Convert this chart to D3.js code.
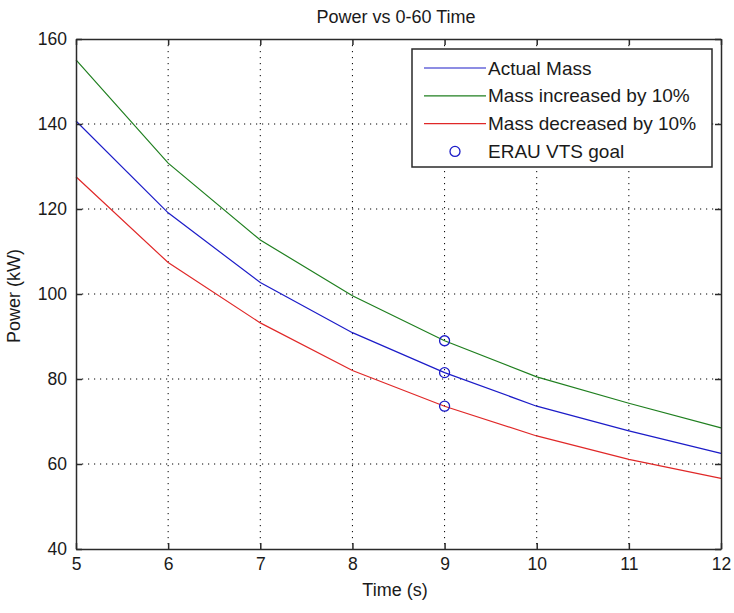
<!DOCTYPE html>
<html>
<head>
<meta charset="utf-8">
<script src="https://cdn.jsdelivr.net/npm/d3@7"></script>
<style>
  body { margin: 0; background: #fff; }
  text { font-family: "Liberation Sans", Arial, sans-serif; fill: #1a1a1a; }
  .grid-line { stroke: #000; stroke-width: 1; stroke-dasharray: 1.2, 4.8; }
</style>
</head>
<body>
<div id="wrapper"></div>
<script>
// data
const times = [5, 6, 7, 8, 9, 10, 11, 12];
const actualMass = [140.7, 119.1, 102.7, 90.9, 81.5, 73.6, 67.8, 62.5];
const massPlus10 = [155.1, 130.8, 112.7, 99.6, 89.0, 80.5, 74.3, 68.5];
const massMinus10 = [127.6, 107.4, 93.2, 82.0, 73.6, 66.6, 61.1, 56.6];
const goalTime = [9, 9, 9];
const goalPower = [89.0, 81.5, 73.6];
const xTicks = [5, 6, 7, 8, 9, 10, 11, 12];
const yTicks = [40, 60, 80, 100, 120, 140, 160];
const seriesNames = ["Actual Mass", "Mass increased by 10%", "Mass decreased by 10%"];
const seriesColors = ["#1c1cc8", "#1f7f1f", "#e02828"];

function drawChart() {
  const dimensions = {
    width: 734,
    height: 613,
    margin: { top: 39, right: 13, bottom: 64, left: 76 },
  };
  dimensions.boundedWidth =
    dimensions.width - dimensions.margin.left - dimensions.margin.right;
  dimensions.boundedHeight =
    dimensions.height - dimensions.margin.top - dimensions.margin.bottom;

  const wrapper = d3
    .select("#wrapper")
    .append("svg")
    .attr("width", dimensions.width)
    .attr("height", dimensions.height);

  const bounds = wrapper
    .append("g")
    .attr("transform", `translate(${dimensions.margin.left},${dimensions.margin.top})`);

  const xScale = d3.scaleLinear().domain([5, 12]).range([0, dimensions.boundedWidth]);
  const yScale = d3.scaleLinear().domain([40, 160]).range([dimensions.boundedHeight, 0]);

  // grid
  const grid = bounds.append("g");
  grid
    .selectAll(".gx")
    .data(xTicks.slice(1, -1))
    .join("line")
    .attr("class", "grid-line")
    .attr("x1", (d) => xScale(d))
    .attr("x2", (d) => xScale(d))
    .attr("y1", 0)
    .attr("y2", dimensions.boundedHeight);
  grid
    .selectAll(".gy")
    .data(yTicks.slice(1, -1))
    .join("line")
    .attr("class", "grid-line")
    .attr("y1", (d) => yScale(d))
    .attr("y2", (d) => yScale(d))
    .attr("x1", 0)
    .attr("x2", dimensions.boundedWidth);

  // lines
  const allSeries = [actualMass, massPlus10, massMinus10];
  const lineGen = d3
    .line()
    .x((d, i) => xScale(times[i]))
    .y((d) => yScale(d));
  bounds
    .selectAll(".series")
    .data(allSeries)
    .join("path")
    .attr("fill", "none")
    .attr("stroke", (d, i) => seriesColors[i])
    .attr("stroke-width", 1.2)
    .attr("d", lineGen);

  // goal markers
  bounds
    .selectAll(".goal")
    .data(goalPower)
    .join("circle")
    .attr("cx", (d, i) => xScale(goalTime[i]))
    .attr("cy", (d) => yScale(d))
    .attr("r", 5)
    .attr("fill", "none")
    .attr("stroke", "#1c1cc8")
    .attr("stroke-width", 1.3);

  // axes with inside ticks on all sides
  const tickLen = 6;
  const axisColor = "#2a2a2a";
  const xAxisBottom = d3.axisBottom(xScale).tickValues(xTicks).tickFormat(d3.format("d")).tickSize(-tickLen).tickPadding(9).tickSizeOuter(0);
  const xAxisTop = d3.axisTop(xScale).tickValues(xTicks).tickSize(-tickLen).tickFormat("").tickSizeOuter(0);
  const yAxisLeft = d3.axisLeft(yScale).tickValues(yTicks).tickFormat(d3.format("d")).tickSize(-tickLen).tickPadding(9).tickSizeOuter(0);
  const yAxisRight = d3.axisRight(yScale).tickValues(yTicks).tickSize(-tickLen).tickFormat("").tickSizeOuter(0);

  const gxb = bounds.append("g").attr("transform", `translate(0,${dimensions.boundedHeight})`).call(xAxisBottom);
  const gxt = bounds.append("g").call(xAxisTop);
  const gyl = bounds.append("g").call(yAxisLeft);
  const gyr = bounds.append("g").attr("transform", `translate(${dimensions.boundedWidth},0)`).call(yAxisRight);

  [gxb, gxt, gyl, gyr].forEach((g) => {
    g.selectAll("path").attr("stroke", axisColor).attr("stroke-width", 1.5);
    g.selectAll("line").attr("stroke", axisColor).attr("stroke-width", 1.5);
    g.selectAll("text").style("font-size", "17.5px").attr("fill", "#1a1a1a");
  });

  // labels
  wrapper
    .append("text")
    .attr("x", 396)
    .attr("y", 17)
    .attr("text-anchor", "middle")
    .attr("dominant-baseline", "central")
    .style("font-size", "18px")
    .text("Power vs 0-60 Time");

  wrapper
    .append("text")
    .attr("x", 395)
    .attr("y", 590)
    .attr("text-anchor", "middle")
    .attr("dominant-baseline", "central")
    .style("font-size", "18px")
    .text("Time (s)");

  wrapper
    .append("text")
    .attr("transform", "translate(14,296) rotate(-90)")
    .attr("text-anchor", "middle")
    .attr("dominant-baseline", "central")
    .style("font-size", "18px")
    .text("Power (kW)");

  // legend
  const legend = wrapper.append("g").attr("transform", "translate(412,49)");
  legend
    .append("rect")
    .attr("width", 300)
    .attr("height", 118)
    .attr("fill", "#fff")
    .attr("stroke", axisColor)
    .attr("stroke-width", 1.5);

  const rowY = (i) => 19 + i * 27.8;
  seriesNames.forEach((name, i) => {
    legend
      .append("line")
      .attr("x1", 12)
      .attr("x2", 74)
      .attr("y1", rowY(i))
      .attr("y2", rowY(i))
      .attr("stroke", seriesColors[i])
      .attr("stroke-width", 1.2);
    legend
      .append("text")
      .attr("x", 76)
      .attr("y", rowY(i))
      .attr("dominant-baseline", "central")
      .style("font-size", "19px")
      .text(name);
  });
  legend
    .append("circle")
    .attr("cx", 43)
    .attr("cy", rowY(3))
    .attr("r", 5)
    .attr("fill", "none")
    .attr("stroke", "#1c1cc8")
    .attr("stroke-width", 1.3);
  legend
    .append("text")
    .attr("x", 76)
    .attr("y", rowY(3))
    .attr("dominant-baseline", "central")
    .style("font-size", "19px")
    .text("ERAU VTS goal");
}
drawChart();
</script>
</body>
</html>
